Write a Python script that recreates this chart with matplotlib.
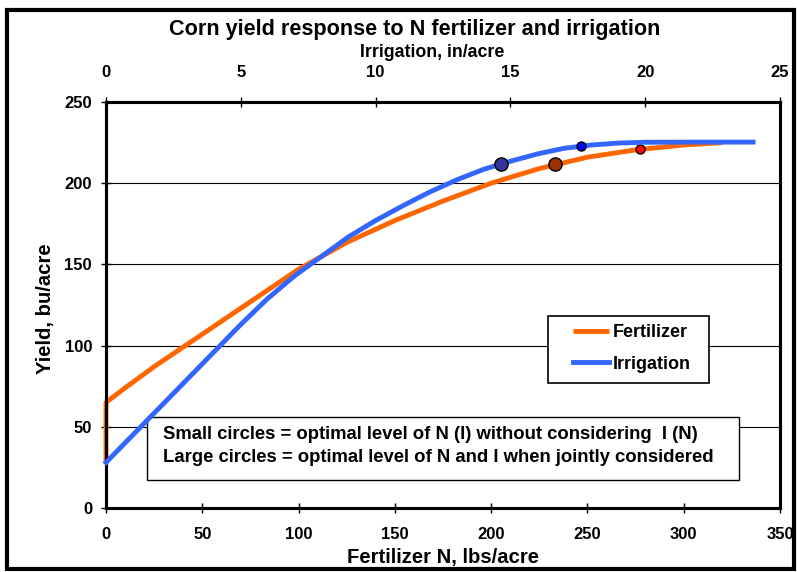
import numpy as np
import matplotlib
matplotlib.use("Agg")
import matplotlib.pyplot as plt
from matplotlib.patches import Rectangle

plt.rcParams['font.family'] = ['Liberation Sans', 'DejaVu Sans']
plt.rcParams['font.weight'] = 'bold'

# fertilizer response (bottom axis, lbs N/acre)
fert_n = [0, 0, 10, 25, 50, 75, 100, 125, 150, 175, 200, 225, 250, 275, 300, 320]
fert_yield = [28, 65, 74, 87, 107, 127, 147, 163.5, 177, 189, 200, 209, 216, 220.5, 223.5, 225]

# irrigation response (top axis, in/acre)
irr_in = [0, 1, 2, 3, 4, 5, 6, 7, 8, 9, 10, 11, 12, 13, 14, 15, 16, 17, 18, 19, 20, 22, 24]
irr_yield = [28, 45, 62, 79, 96, 113, 129, 143, 155, 167, 177, 186, 194.5, 202, 208.5,
             213.5, 218, 221.5, 223.5, 224.7, 225.2, 225.3, 225.3]

# optimum points
small_fert = (277.4, 220.8)
large_fert = (233.3, 211.7)
small_irr = (17.6, 222.6)
large_irr = (14.65, 211.8)

note_lines = ['Small circles = optimal level of N (I) without considering  I (N)',
              'Large circles = optimal level of N and I when jointly considered']

orange = '#FF6600'
blue = '#3366FF'

fig = plt.figure(figsize=(7.97, 5.72), dpi=100)
ax = fig.add_axes([0.133, 0.112, 0.8457, 0.7097])
ax2 = ax.twiny()

ax.set_xlim(0, 350)
ax.set_ylim(0, 250)
ax2.set_xlim(0, 25)

ax.set_yticks([0, 50, 100, 150, 200, 250])
ax.set_xticks(range(0, 351, 50))
ax2.set_xticks(range(0, 26, 5))
for y in [50, 100, 150, 200]:
    ax.axhline(y, color='black', lw=0.8, zorder=0)

l1, = ax.plot(fert_n, fert_yield, color=orange, lw=3.5, zorder=3, clip_on=False,
              solid_capstyle='butt')
ax.plot(*large_fert, 'o', ms=9.5, mfc='#993300', mec='black', mew=1, zorder=5)
ax.plot(*small_fert, 'o', ms=6.5, mfc='#FF0000', mec='black', mew=1, zorder=5)

l2, = ax2.plot(irr_in, irr_yield, color=blue, lw=3.5, zorder=3, clip_on=False)
ax2.plot(*large_irr, 'o', ms=9.5, mfc='#333399', mec='black', mew=1, zorder=5)
ax2.plot(*small_irr, 'o', ms=6.5, mfc='#0000FF', mec='black', mew=1, zorder=5)

for a in (ax, ax2):
    for s in a.spines.values():
        s.set_linewidth(2.2)
    a.tick_params(direction='inout', length=7, width=1, labelsize=12)
ax.tick_params(axis='x', pad=10.5)
ax.tick_params(axis='y', pad=6.5)
ax2.tick_params(axis='x', pad=12)

ax.set_xlabel('Fertilizer N, lbs/acre', fontsize=14.6, fontweight='bold', va='center')
ax.xaxis.set_label_coords(0.5, -0.123)
ax.set_ylabel('Yield, bu/acre', fontsize=14.6, fontweight='bold', va='center')
ax.yaxis.set_label_coords(-0.09, 0.49)
ax2.set_xlabel('Irrigation, in/acre', fontsize=12.8, fontweight='bold', va='center')
ax2.xaxis.set_label_coords(0.484, 1.121)
fig.text(0.520, 0.948, 'Corn yield response to N fertilizer and irrigation',
         ha='center', va='center', fontsize=15.6, fontweight='bold')

# legend: frame drawn separately so the padding can differ left/right vs top/bottom
ax.add_patch(Rectangle((0.656, 0.308), 0.239, 0.165, transform=ax.transAxes,
                       fc='white', ec='black', lw=1.2, zorder=6))
leg = ax.legend([l1, l2], ['Fertilizer', 'Irrigation'], loc='center left',
                bbox_to_anchor=(0.693, 0.393), borderaxespad=0, borderpad=0,
                frameon=False, fontsize=13, handlelength=1.98,
                handletextpad=0.22, labelspacing=0.8)
leg.set_zorder(7)

# note box
ax.add_patch(Rectangle((0.0608, 0.069), 0.878, 0.156, transform=ax.transAxes,
                       fc='white', ec='black', lw=1, zorder=6))
ax.text(0.085, 0.169, note_lines[0], transform=ax.transAxes, fontsize=13.3,
        fontweight='bold', va='baseline', zorder=7)
ax.text(0.085, 0.114, note_lines[1], transform=ax.transAxes, fontsize=13.3,
        fontweight='bold', va='baseline', zorder=7)

fig.patches.append(Rectangle((7 / 797, 3 / 572), 787 / 797, 559 / 572,
                             transform=fig.transFigure, fill=False, ec='black', lw=3))

fig.savefig('out.png', dpi=100)
